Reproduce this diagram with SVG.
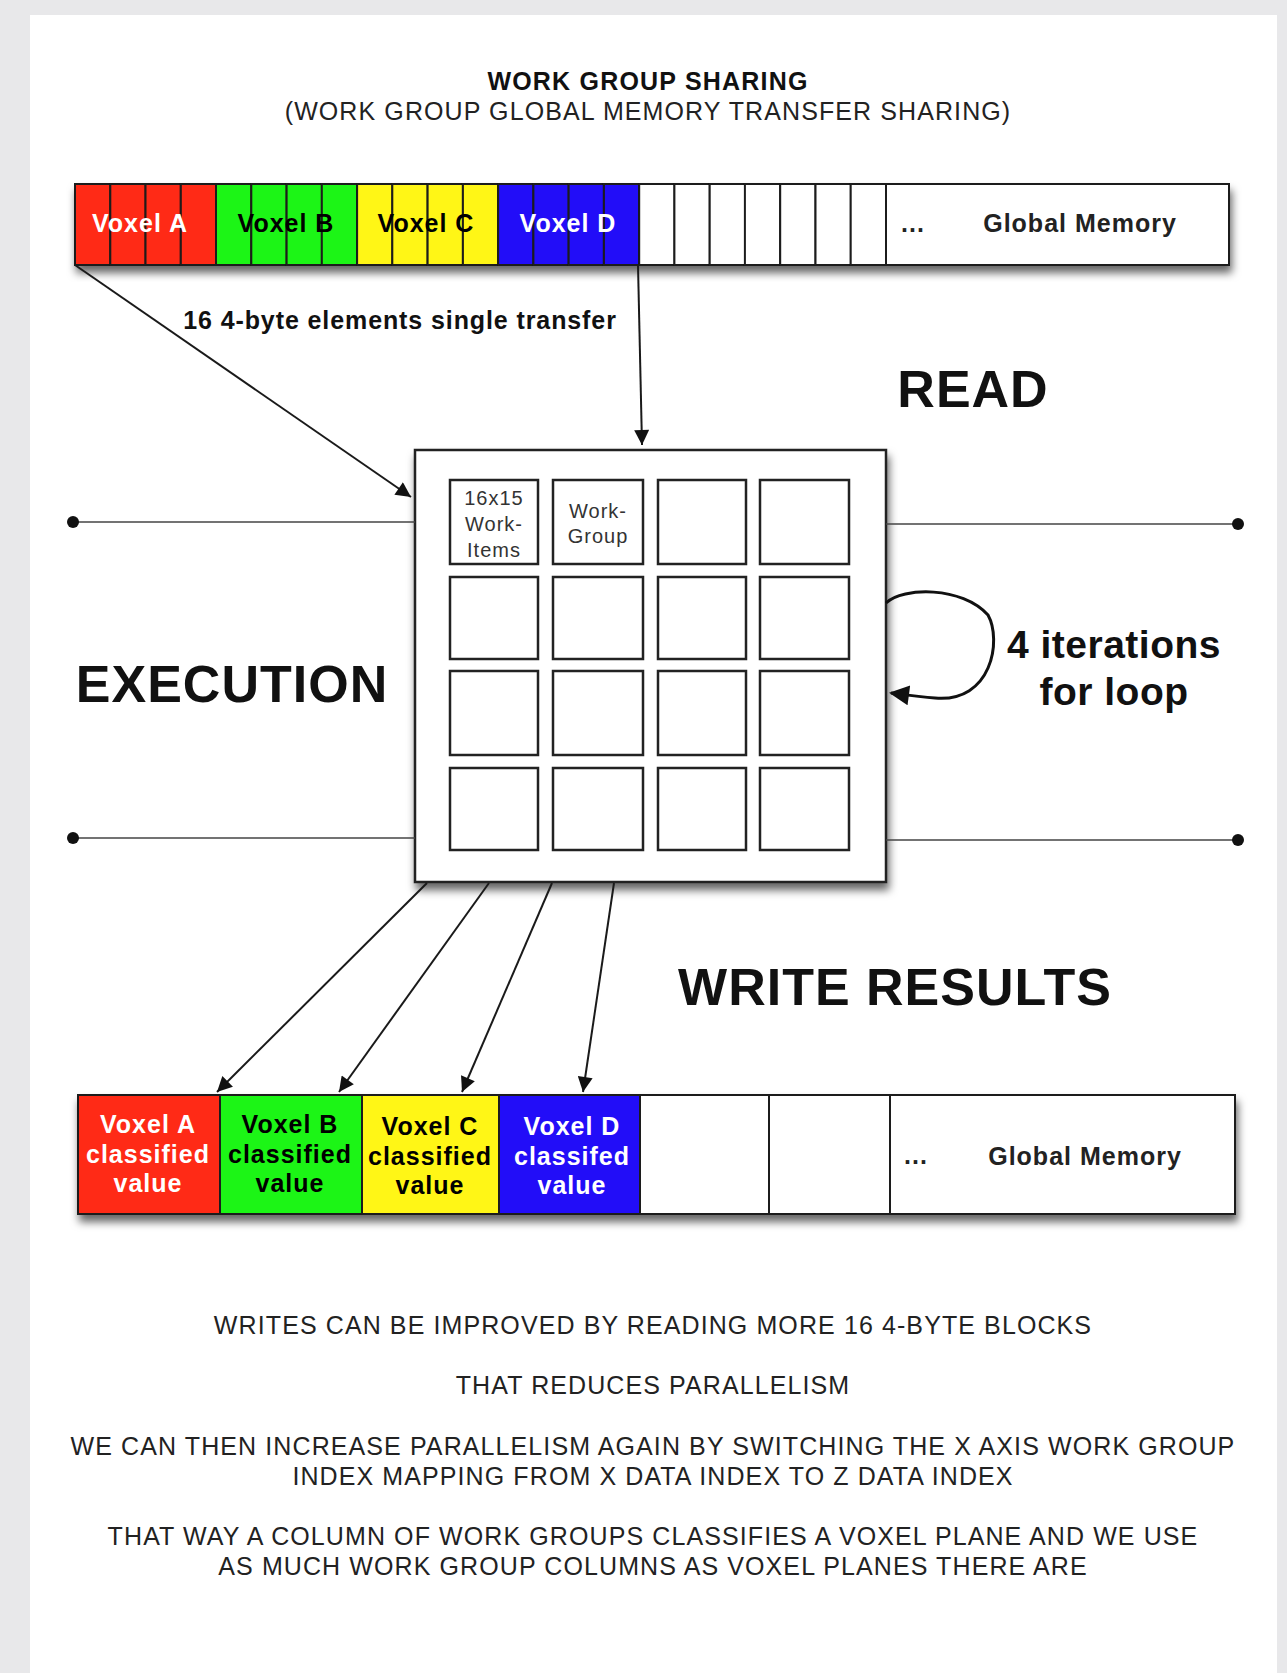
<svg xmlns="http://www.w3.org/2000/svg" width="1287" height="1673" viewBox="0 0 1287 1673">
<defs>
<style>
.t{font-family:"Liberation Sans",Arial,sans-serif;}
.b{font-weight:bold;}
.cell{stroke:#1a1a1a;stroke-width:2;}
.wg{fill:#fff;stroke:#222;stroke-width:2.5;}
.conn{stroke:#1a1a1a;stroke-width:2;fill:none;}
.loop{stroke:#111;stroke-width:3;fill:none;}
.hl{stroke:#444;stroke-width:1.6;}
.red{fill:#ff2b17;}
.green{fill:#1ef518;}
.yellow{fill:#fff617;}
.blue{fill:#2111f8;}
.white{fill:#fff;}
.lbl{font-size:25px;text-anchor:middle;letter-spacing:1px;}
.para{font-size:25px;fill:#222;text-anchor:middle;letter-spacing:1.1px;}
.big{font-size:52px;font-weight:bold;letter-spacing:1px;}
.small{font-size:20px;text-anchor:middle;fill:#333;letter-spacing:1px;}
</style>
<filter id="sh" x="-5%" y="-10%" width="110%" height="130%">
<feDropShadow dx="2" dy="7" stdDeviation="4" flood-color="#000" flood-opacity="0.6"/>
</filter>
<marker id="ah" viewBox="0 0 10 10" refX="10" refY="5" markerUnits="userSpaceOnUse" markerWidth="20" markerHeight="15" orient="auto">
<path d="M0,0 L10,5 L0,10 z" fill="#111"/>
</marker>
<marker id="ahb" viewBox="0 0 10 10" refX="9" refY="5" markerUnits="userSpaceOnUse" markerWidth="25" markerHeight="20" orient="auto">
<path d="M0,0 L10,5 L0,10 z" fill="#111"/>
</marker>
</defs>
<rect x="0" y="0" width="1287" height="1673" fill="#e8e8ea"/>
<rect x="30" y="15" width="1247" height="1658" fill="#fff"/>

<g id="title">
<text class="t b" x="648" y="90" font-size="25" letter-spacing="1.2" text-anchor="middle" fill="#111">WORK GROUP SHARING</text>
<text class="t" x="648" y="120" font-size="25" letter-spacing="1.1" text-anchor="middle" fill="#222">(WORK GROUP GLOBAL MEMORY TRANSFER SHARING)</text>
</g>

<g id="global-memory-read" filter="url(#sh)">
<rect class="cell red" x="75" y="184" width="35.3" height="81"/>
<rect class="cell red" x="110.3" y="184" width="35.3" height="81"/>
<rect class="cell red" x="145.5" y="184" width="35.3" height="81"/>
<rect class="cell red" x="180.8" y="184" width="35.3" height="81"/>
<rect class="cell green" x="216" y="184" width="35.3" height="81"/>
<rect class="cell green" x="251.3" y="184" width="35.3" height="81"/>
<rect class="cell green" x="286.6" y="184" width="35.3" height="81"/>
<rect class="cell green" x="321.8" y="184" width="35.3" height="81"/>
<rect class="cell yellow" x="357.1" y="184" width="35.3" height="81"/>
<rect class="cell yellow" x="392.3" y="184" width="35.3" height="81"/>
<rect class="cell yellow" x="427.6" y="184" width="35.3" height="81"/>
<rect class="cell yellow" x="462.9" y="184" width="35.3" height="81"/>
<rect class="cell blue" x="498.1" y="184" width="35.3" height="81"/>
<rect class="cell blue" x="533.4" y="184" width="35.3" height="81"/>
<rect class="cell blue" x="568.6" y="184" width="35.3" height="81"/>
<rect class="cell blue" x="603.9" y="184" width="35.3" height="81"/>
<rect class="cell white" x="639.2" y="184" width="35.3" height="81"/>
<rect class="cell white" x="674.4" y="184" width="35.3" height="81"/>
<rect class="cell white" x="709.7" y="184" width="35.3" height="81"/>
<rect class="cell white" x="744.9" y="184" width="35.3" height="81"/>
<rect class="cell white" x="780.2" y="184" width="35.3" height="81"/>
<rect class="cell white" x="815.5" y="184" width="35.3" height="81"/>
<rect class="cell white" x="850.7" y="184" width="35.3" height="81"/>
<rect class="cell white" x="886" y="184" width="343" height="81"/>
</g>
<g id="global-memory-read-labels">
<text class="t b lbl" x="140" y="232" fill="#fff">Voxel A</text>
<text class="t b lbl" x="286" y="232" fill="#000">Voxel B</text>
<text class="t b lbl" x="426" y="232" fill="#000">Voxel C</text>
<text class="t b lbl" x="568" y="232" fill="#fff">Voxel D</text>
<text class="t b lbl" x="913" y="232" fill="#222">...</text>
<text class="t b lbl" x="1080" y="232" fill="#222">Global Memory</text>
</g>

<g id="workgroup-grid">
<rect x="415" y="450" width="471" height="432" fill="#fff" stroke="#222" stroke-width="2.5" filter="url(#sh)"/>
<rect class="wg" x="450" y="480" width="88" height="84"/>
<rect class="wg" x="553" y="480" width="90" height="84"/>
<rect class="wg" x="658" y="480" width="88" height="84"/>
<rect class="wg" x="760" y="480" width="89" height="84"/>
<rect class="wg" x="450" y="577" width="88" height="82"/>
<rect class="wg" x="553" y="577" width="90" height="82"/>
<rect class="wg" x="658" y="577" width="88" height="82"/>
<rect class="wg" x="760" y="577" width="89" height="82"/>
<rect class="wg" x="450" y="671" width="88" height="84"/>
<rect class="wg" x="553" y="671" width="90" height="84"/>
<rect class="wg" x="658" y="671" width="88" height="84"/>
<rect class="wg" x="760" y="671" width="89" height="84"/>
<rect class="wg" x="450" y="768" width="88" height="82"/>
<rect class="wg" x="553" y="768" width="90" height="82"/>
<rect class="wg" x="658" y="768" width="88" height="82"/>
<rect class="wg" x="760" y="768" width="89" height="82"/>
<text class="t small" x="494" y="505">16x15</text>
<text class="t small" x="494" y="531">Work-</text>
<text class="t small" x="494" y="557">Items</text>
<text class="t small" x="598" y="518">Work-</text>
<text class="t small" x="598" y="543">Group</text>
</g>

<g id="global-memory-write" filter="url(#sh)">
<rect class="cell red" x="78" y="1095" width="142" height="119"/>
<rect class="cell green" x="220" y="1095" width="142" height="119"/>
<rect class="cell yellow" x="362" y="1095" width="137" height="119"/>
<rect class="cell blue" x="499" y="1095" width="141" height="119"/>
<rect class="cell white" x="640" y="1095" width="129" height="119"/>
<rect class="cell white" x="769" y="1095" width="121" height="119"/>
<rect class="cell white" x="890" y="1095" width="345" height="119"/>
</g>
<g id="global-memory-write-labels">
<text class="t b lbl" x="148" y="1133" fill="#fff">Voxel A</text>
<text class="t b lbl" x="148" y="1163" fill="#fff">classified</text>
<text class="t b lbl" x="148" y="1192" fill="#fff">value</text>
<text class="t b lbl" x="290" y="1133" fill="#000">Voxel B</text>
<text class="t b lbl" x="290" y="1163" fill="#000">classified</text>
<text class="t b lbl" x="290" y="1192" fill="#000">value</text>
<text class="t b lbl" x="430" y="1135" fill="#000">Voxel C</text>
<text class="t b lbl" x="430" y="1165" fill="#000">classified</text>
<text class="t b lbl" x="430" y="1194" fill="#000">value</text>
<text class="t b lbl" x="572" y="1135" fill="#fff">Voxel D</text>
<text class="t b lbl" x="572" y="1165" fill="#fff">classifed</text>
<text class="t b lbl" x="572" y="1194" fill="#fff">value</text>
<text class="t b lbl" x="916" y="1164" fill="#222">...</text>
<text class="t b lbl" x="1085" y="1165" fill="#222">Global Memory</text>
</g>

<g id="phase-lines">
<line class="hl" x1="73" y1="522" x2="415" y2="522"/>
<line class="hl" x1="886" y1="524" x2="1238" y2="524"/>
<line class="hl" x1="73" y1="838" x2="415" y2="838"/>
<line class="hl" x1="886" y1="840" x2="1238" y2="840"/>
<circle cx="73" cy="522" r="6" fill="#111"/>
<circle cx="1238" cy="524" r="6" fill="#111"/>
<circle cx="73" cy="838" r="6" fill="#111"/>
<circle cx="1238" cy="840" r="6" fill="#111"/>
</g>

<g id="connectors">
<line class="conn" x1="75" y1="265" x2="411" y2="497" marker-end="url(#ah)"/>
<line class="conn" x1="638" y1="265" x2="642" y2="445" marker-end="url(#ah)"/>
<path class="loop" d="M886,603 C903,587 962,586 988,615 C1002,640 992,703 935,698 C920,697 906,695 891,693" marker-end="url(#ahb)"/>
<line class="conn" x1="427" y1="883" x2="217" y2="1092" marker-end="url(#ah)"/>
<line class="conn" x1="489" y1="883" x2="339" y2="1092" marker-end="url(#ah)"/>
<line class="conn" x1="552" y1="883" x2="462" y2="1092" marker-end="url(#ah)"/>
<line class="conn" x1="614" y1="883" x2="583" y2="1092" marker-end="url(#ah)"/>
</g>

<g id="labels">
<text class="t b" x="400" y="329" font-size="25" letter-spacing="0.9" text-anchor="middle" fill="#111">16 4-byte elements single transfer</text>
<text class="t big" x="973" y="407" text-anchor="middle" fill="#111">READ</text>
<text class="t big" x="232" y="702" text-anchor="middle" fill="#111">EXECUTION</text>
<text class="t big" x="895" y="1005" text-anchor="middle" fill="#111">WRITE RESULTS</text>
<text class="t b" x="1114" y="658" font-size="39" letter-spacing="0.5" text-anchor="middle" fill="#111">4 iterations</text>
<text class="t b" x="1114" y="705" font-size="39" letter-spacing="0.5" text-anchor="middle" fill="#111">for loop</text>
</g>

<g id="notes">
<text class="t para" x="653" y="1334">WRITES CAN BE IMPROVED BY READING MORE 16 4-BYTE BLOCKS</text>
<text class="t para" x="653" y="1394">THAT REDUCES PARALLELISM</text>
<text class="t para" x="653" y="1455">WE CAN THEN INCREASE PARALLELISM AGAIN BY SWITCHING THE X AXIS WORK GROUP</text>
<text class="t para" x="653" y="1485">INDEX MAPPING FROM X DATA INDEX TO Z DATA INDEX</text>
<text class="t para" x="653" y="1545">THAT WAY A COLUMN OF WORK GROUPS CLASSIFIES A VOXEL PLANE AND WE USE</text>
<text class="t para" x="653" y="1575">AS MUCH WORK GROUP COLUMNS AS VOXEL PLANES THERE ARE</text>
</g>
</svg>
